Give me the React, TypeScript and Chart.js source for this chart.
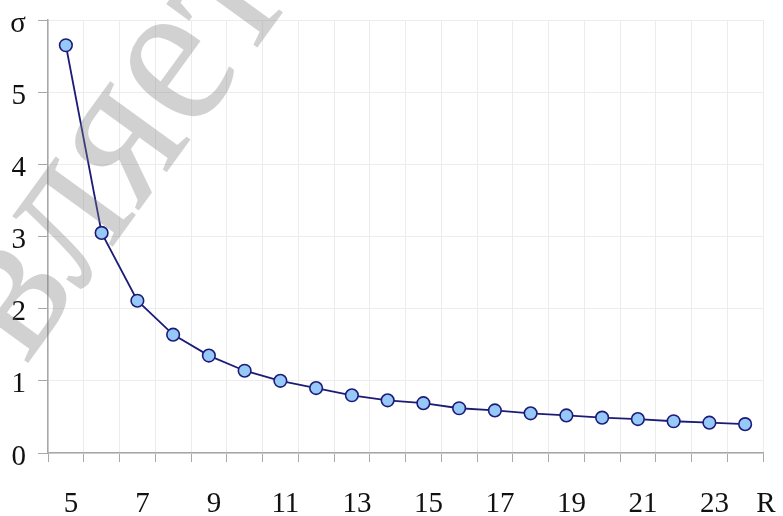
import React, { useEffect, useRef } from "react";
import { Chart, registerables } from "chart.js";

Chart.register(...registerables);

const rValues: number[] = [5, 6, 7, 8, 9, 10, 11, 12, 13, 14, 15, 16, 17, 18, 19, 20, 21, 22, 23, 24];
const sigmaValues: number[] = [5.65, 3.05, 2.11, 1.64, 1.35, 1.14, 1.0, 0.9, 0.8, 0.73, 0.69, 0.62, 0.59, 0.55, 0.52, 0.49, 0.47, 0.44, 0.42, 0.4];
const yTickMax = 6;
const yAxisSymbol = "σ";
const xAxisSymbol = "R";
const watermarkText = "вляет";

const SERIF = '"Liberation Serif", "Times New Roman", serif';

const extrasPlugin = {
  id: "extras",
  afterDraw(chart: any) {
    const ctx = chart.ctx;
    const area = chart.chartArea;
    ctx.save();
    ctx.fillStyle = "#111";
    ctx.font = `29px ${SERIF}`;
    ctx.textAlign = "center";
    ctx.textBaseline = "alphabetic";
    ctx.fillText(xAxisSymbol, area.right + 3, 512);
    ctx.restore();

    ctx.save();
    ctx.translate(26, 366);
    ctx.rotate((-54 * Math.PI) / 180);
    ctx.scale(1, 1.08);
    ctx.font = `200px ${SERIF}`;
    ctx.fillStyle = "rgba(128,128,128,0.36)";
    ctx.textAlign = "left";
    ctx.textBaseline = "alphabetic";
    ctx.fillText(watermarkText, 0, 0);
    ctx.restore();
  },
};

export default function App() {
  const ref = useRef<HTMLCanvasElement | null>(null);
  useEffect(() => {
    if (!ref.current) return;
    const chart = new Chart(ref.current, {
      type: "line",
      data: {
        labels: rValues.map(String),
        datasets: [
          {
            data: sigmaValues,
            borderColor: "#1c1c78",
            borderWidth: 1.8,
            pointRadius: 6.3,
            pointBackgroundColor: "#96c8f8",
            pointBorderColor: "#1c1c78",
            pointBorderWidth: 1.6,
            tension: 0,
          },
        ],
      },
      options: {
        animation: false,
        responsive: false,
        maintainAspectRatio: false,
        layout: { padding: { top: 20, right: 20, left: 0, bottom: 0 } },
        plugins: { legend: { display: false }, tooltip: { enabled: false } },
        scales: {
          x: {
            offset: true,
            afterFit: (s: any) => {
              s.height = 63;
              s.paddingLeft = 0;
              s.paddingRight = 0;
            },
            grid: {
              offset: true,
              color: "#ececec",
              tickColor: "#a8a8a8",
              tickLength: 9,
              lineWidth: 1,
            },
            border: { color: "#a8a8a8", width: 1.5 },
            ticks: {
              autoSkip: false,
              maxRotation: 0,
              padding: 25,
              labelOffset: 5,
              color: "#111",
              font: { family: SERIF, size: 29 },
              callback: (_v: any, i: number) => (i % 2 === 0 ? String(rValues[i]) : ""),
            },
          },
          y: {
            min: 0,
            max: yTickMax,
            afterFit: (s: any) => {
              s.width = 48;
              s.paddingTop = 0;
              s.paddingBottom = 0;
            },
            grid: {
              color: "#ececec",
              tickColor: "#a8a8a8",
              tickLength: 10,
            },
            border: { color: "#a8a8a8", width: 1.5 },
            ticks: {
              stepSize: 1,
              padding: 12,
              labelOffset: 4,
              color: "#111",
              font: { family: SERIF, size: 29 },
              callback: (v: any) => (Number(v) === yTickMax ? yAxisSymbol : String(v)),
            },
          },
        },
      },
      plugins: [extrasPlugin],
    });
    return () => chart.destroy();
  }, []);
  return (
    <div style={{ position: "fixed", left: 0, top: 0, width: 783, height: 516, background: "#fff" }}>
      <canvas ref={ref} width={783} height={516} style={{ width: 783, height: 516 }} />
    </div>
  );
}
